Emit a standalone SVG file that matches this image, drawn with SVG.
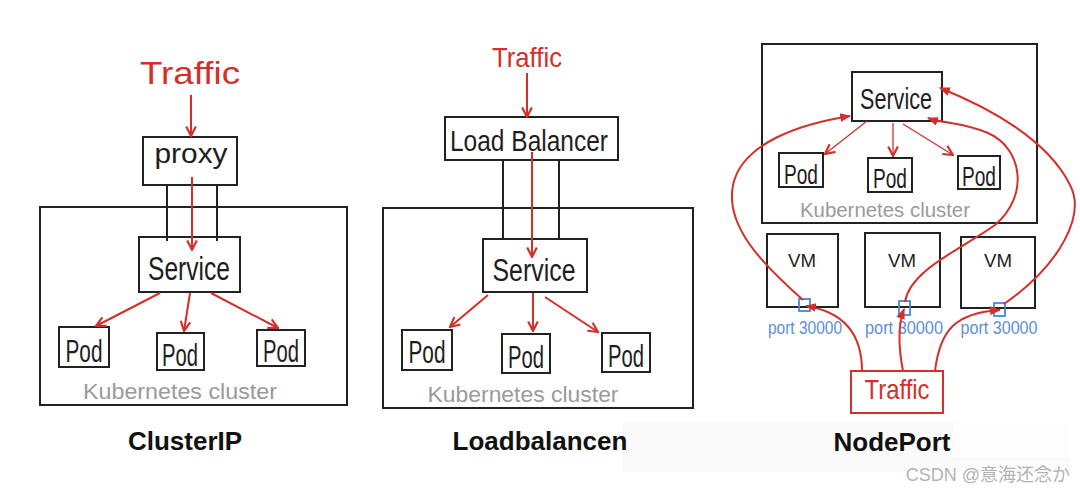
<svg xmlns="http://www.w3.org/2000/svg" width="1080" height="491" viewBox="0 0 1080 491">
<style>
.box{fill:none;stroke:#222;stroke-width:2}
.rbox{fill:none;stroke:#d3302b;stroke-width:2}
.blk{stroke:#222;stroke-width:2;fill:none}
.red{stroke:#d3302b;stroke-width:2;fill:none}
.thin{stroke:#d3302b;stroke-width:1.3;fill:none}
.port{fill:none;stroke:#4a86d8;stroke-width:1.8}
.hand{font-family:"Liberation Sans",Arial,sans-serif;fill:#1e1e1e;text-anchor:middle}
.rt{fill:#d3302b}
.gt{fill:#9a9a9a}
.bt{fill:#5b8fd8}
.title{font-family:"Liberation Sans",Arial,sans-serif;font-weight:bold;font-size:26px;fill:#111;text-anchor:middle}
</style>
<defs>
<marker id="open" viewBox="0 0 10 10" refX="9" refY="5" markerWidth="12" markerHeight="12" markerUnits="userSpaceOnUse" orient="auto">
<path d="M1,1 L9,5 L1,9" fill="none" stroke="#d3302b" stroke-width="1.8"/>
</marker>
<marker id="fill" viewBox="0 0 10 10" refX="9" refY="5" markerWidth="11" markerHeight="11" markerUnits="userSpaceOnUse" orient="auto">
<path d="M0,1 L10,5 L0,9 z" fill="#d3302b"/>
</marker>
</defs>
<rect width="1080" height="491" fill="#ffffff"/>
<rect x="623" y="423" width="447" height="49" fill="#fafafa"/>
<rect x="953" y="420" width="117" height="37" fill="#fefefe"/>

<!-- ClusterIP panel -->
<g id="clusterip-cluster">
<rect class="box" x="40" y="207" width="307" height="198"/>
<text class="hand gt" x="180" y="399" font-size="22" textLength="194" lengthAdjust="spacingAndGlyphs">Kubernetes cluster</text>
</g>
<g id="clusterip-traffic"><text class="hand rt" x="190" y="84" font-size="32" textLength="100" lengthAdjust="spacingAndGlyphs">Traffic</text></g>
<g id="clusterip-proxy">
<rect class="box" x="143" y="137" width="94" height="48"/>
<text class="hand" x="191" y="163" font-size="28" textLength="73" lengthAdjust="spacingAndGlyphs">proxy</text>
</g>
<g id="clusterip-service">
<rect class="box" x="139" y="237" width="101" height="55"/>
<text class="hand" x="189" y="280" font-size="33" textLength="82" lengthAdjust="spacingAndGlyphs">Service</text>
</g>
<g id="clusterip-pod1"><rect class="box" x="59" y="327" width="50" height="40"/><text class="hand" x="84" y="362" font-size="31" textLength="37" lengthAdjust="spacingAndGlyphs">Pod</text></g>
<g id="clusterip-pod2"><rect class="box" x="157" y="333" width="47" height="37"/><text class="hand" x="180" y="366" font-size="31" textLength="36" lengthAdjust="spacingAndGlyphs">Pod</text></g>
<g id="clusterip-pod3"><rect class="box" x="257" y="330" width="48" height="36"/><text class="hand" x="281" y="362" font-size="31" textLength="36" lengthAdjust="spacingAndGlyphs">Pod</text></g>
<g id="clusterip-label"><text class="title" x="185" y="450">ClusterIP</text></g>

<!-- Loadbalancer panel -->
<g id="lb-cluster">
<rect class="box" x="383" y="208" width="310" height="200"/>
<text class="hand gt" x="523" y="402" font-size="22" textLength="191" lengthAdjust="spacingAndGlyphs">Kubernetes cluster</text>
</g>
<g id="lb-traffic"><text class="hand rt" x="527" y="67" font-size="28" textLength="70" lengthAdjust="spacingAndGlyphs">Traffic</text></g>
<g id="lb-balancer">
<rect class="box" x="445" y="117" width="173" height="43"/>
<text class="hand" x="529" y="151" font-size="30" textLength="158" lengthAdjust="spacingAndGlyphs">Load Balancer</text>
</g>
<g id="lb-service">
<rect class="box" x="483" y="239" width="104" height="53"/>
<text class="hand" x="534" y="281" font-size="31" textLength="83" lengthAdjust="spacingAndGlyphs">Service</text>
</g>
<g id="lb-pod1"><rect class="box" x="402" y="330" width="50" height="40"/><text class="hand" x="427" y="363" font-size="31" textLength="37" lengthAdjust="spacingAndGlyphs">Pod</text></g>
<g id="lb-pod2"><rect class="box" x="502" y="334" width="48" height="39"/><text class="hand" x="526" y="368" font-size="31" textLength="36" lengthAdjust="spacingAndGlyphs">Pod</text></g>
<g id="lb-pod3"><rect class="box" x="602" y="333" width="48" height="39"/><text class="hand" x="626" y="367" font-size="31" textLength="36" lengthAdjust="spacingAndGlyphs">Pod</text></g>
<g id="lb-label"><text class="title" x="540" y="450">Loadbalancen</text></g>

<!-- NodePort panel -->
<g id="np-cluster">
<rect class="box" x="762" y="44" width="275" height="179"/>
<text class="hand gt" x="885" y="217" font-size="20" textLength="170" lengthAdjust="spacingAndGlyphs">Kubernetes cluster</text>
</g>
<g id="np-service">
<rect class="box" x="852" y="72" width="90" height="49"/>
<text class="hand" x="896" y="109" font-size="29" textLength="72" lengthAdjust="spacingAndGlyphs">Service</text>
</g>
<g id="np-pod1"><rect class="box" x="779" y="153" width="44" height="34"/><text class="hand" x="801" y="184" font-size="28" textLength="34" lengthAdjust="spacingAndGlyphs">Pod</text></g>
<g id="np-pod2"><rect class="box" x="868" y="158" width="44" height="34"/><text class="hand" x="890" y="188" font-size="28" textLength="34" lengthAdjust="spacingAndGlyphs">Pod</text></g>
<g id="np-pod3"><rect class="box" x="958" y="156" width="42" height="33"/><text class="hand" x="979" y="186" font-size="28" textLength="34" lengthAdjust="spacingAndGlyphs">Pod</text></g>
<g id="np-vm1">
<rect class="box" x="767" y="234" width="71" height="73"/>
<text class="hand" x="802" y="267" font-size="19" textLength="28" lengthAdjust="spacingAndGlyphs">VM</text>
<rect class="port" x="799" y="299" width="11" height="12"/>
<text class="hand bt" x="805" y="334" font-size="18" textLength="74" lengthAdjust="spacingAndGlyphs">port 30000</text>
</g>
<g id="np-vm2">
<rect class="box" x="865" y="233" width="75" height="74"/>
<text class="hand" x="902" y="267" font-size="19" textLength="28" lengthAdjust="spacingAndGlyphs">VM</text>
<rect class="port" x="899" y="301" width="11" height="14"/>
<text class="hand bt" x="904" y="334" font-size="18" textLength="78" lengthAdjust="spacingAndGlyphs">port 30000</text>
</g>
<g id="np-vm3">
<rect class="box" x="961" y="237" width="74" height="71"/>
<text class="hand" x="998" y="267" font-size="19" textLength="28" lengthAdjust="spacingAndGlyphs">VM</text>
<rect class="port" x="994" y="303" width="11" height="13"/>
<text class="hand bt" x="999" y="334" font-size="18" textLength="77" lengthAdjust="spacingAndGlyphs">port 30000</text>
</g>
<g id="np-traffic">
<rect class="rbox" x="851" y="371" width="92" height="42"/>
<text class="hand rt" x="897" y="399" font-size="28" textLength="65" lengthAdjust="spacingAndGlyphs">Traffic</text>
</g>
<g id="np-label"><text class="title" x="892" y="451">NodePort</text></g>

<g id="watermark"><text x="1070" y="481" font-family="'Liberation Sans','Noto Sans CJK JP',sans-serif" font-size="18" fill="#b3b3b3" text-anchor="end">CSDN @意海还念か</text></g>

<!-- connectors -->
<g id="connectors">
<line class="red" x1="191" y1="95" x2="191" y2="136" marker-end="url(#open)"/>
<line class="blk" x1="167" y1="185" x2="167" y2="241"/>
<line class="blk" x1="217" y1="185" x2="217" y2="241"/>
<line class="red" x1="192" y1="177" x2="192" y2="250" marker-end="url(#open)"/>
<line class="red" x1="160" y1="293" x2="96" y2="326" marker-end="url(#open)"/>
<line class="red" x1="190" y1="293" x2="184" y2="331" marker-end="url(#open)"/>
<line class="red" x1="211" y1="293" x2="278" y2="328" marker-end="url(#open)"/>

<line class="red" x1="527" y1="73" x2="527" y2="117" marker-end="url(#open)"/>
<line class="blk" x1="503" y1="160" x2="503" y2="240"/>
<line class="blk" x1="559" y1="160" x2="559" y2="240"/>
<line class="red" x1="532" y1="152" x2="532" y2="257" marker-end="url(#open)"/>
<line class="red" x1="488" y1="295" x2="450" y2="327" marker-end="url(#open)"/>
<line class="red" x1="533" y1="293" x2="533" y2="331" marker-end="url(#open)"/>
<line class="red" x1="545" y1="297" x2="598" y2="332" marker-end="url(#open)"/>

<line class="thin" x1="867" y1="121" x2="825" y2="154" marker-end="url(#open)"/>
<line class="thin" x1="893" y1="123" x2="893" y2="156" marker-end="url(#open)"/>
<line class="thin" x1="903" y1="124" x2="953" y2="155" marker-end="url(#open)"/>

<path class="red" d="M862,371 C862,335 845,312 806,306" marker-end="url(#fill)"/>
<path class="red" d="M903,371 C898,345 898,325 904,309" marker-end="url(#fill)"/>
<path class="red" d="M935,371 C940,330 955,313 1000,310" marker-end="url(#fill)"/>

<path class="red" d="M803,300 C760,262 725,225 733,185 C742,143 800,124 850,116" marker-end="url(#fill)"/>
<path class="red" d="M905,302 C910,270 960,250 995,225 C1030,195 1022,148 988,133 C962,122 945,124 928,118" marker-end="url(#fill)"/>
<path class="red" d="M1004,304 C1060,265 1086,215 1070,185 C1048,140 990,108 940,88" marker-end="url(#fill)"/>
</g>
</svg>
